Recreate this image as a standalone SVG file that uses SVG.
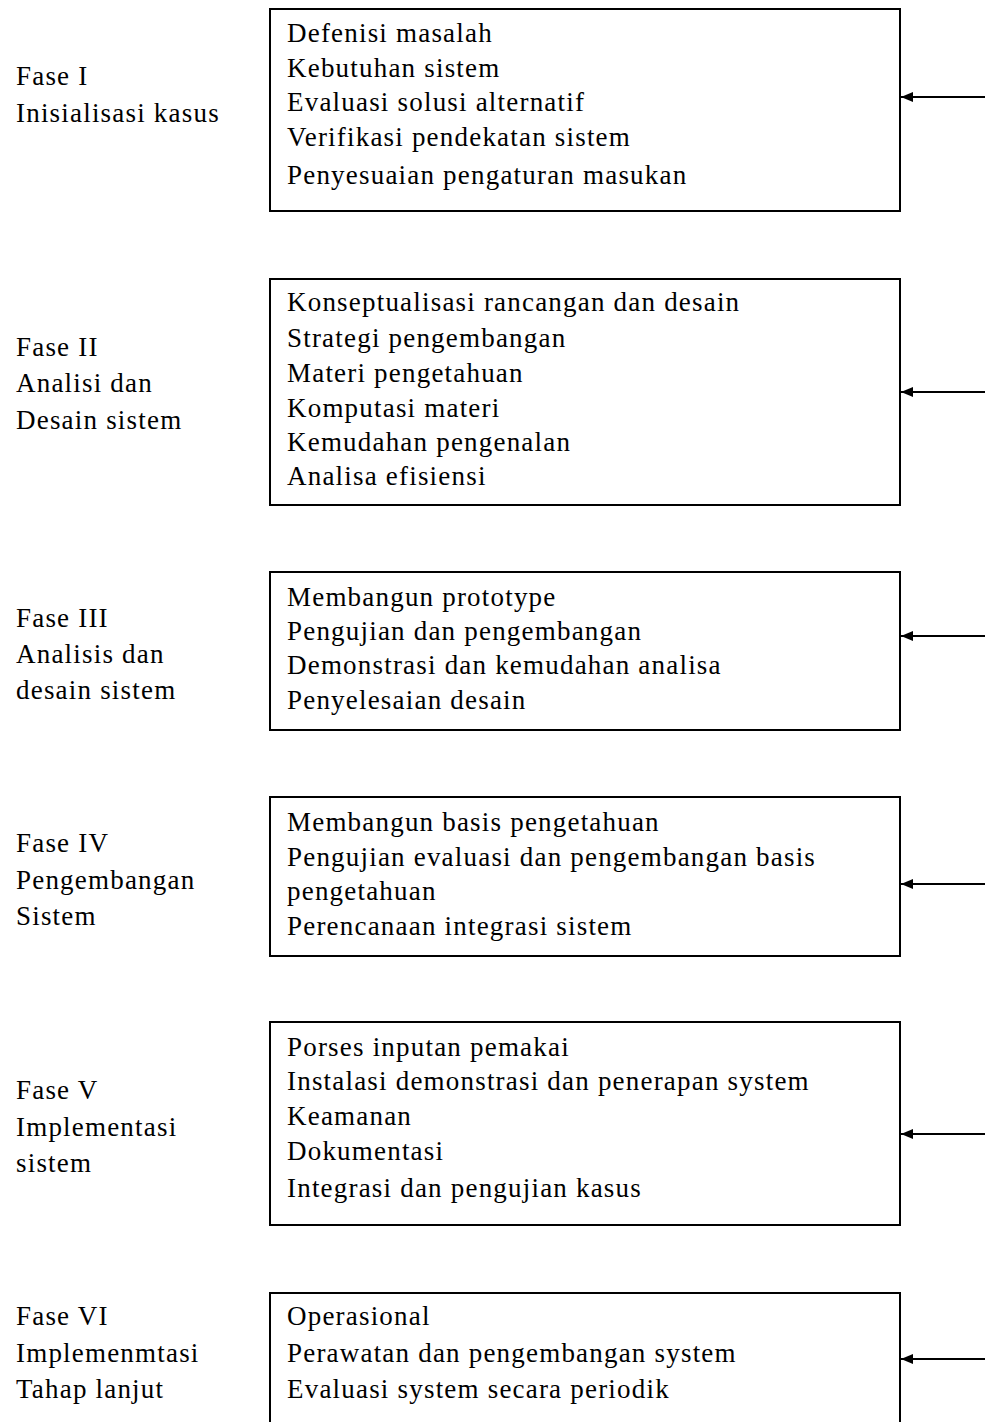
<svg xmlns="http://www.w3.org/2000/svg" width="985" height="1422" viewBox="0 0 985 1422">
<style>
text{font-family:'Liberation Serif','DejaVu Serif',serif;font-size:27px;letter-spacing:1.2px;fill:#000}
.box{fill:#fff;stroke:#000;stroke-width:2}
.conn{stroke:#000;stroke-width:2;fill:none}
</style>
<defs>
<marker id="ah" markerWidth="12" markerHeight="10" refX="12" refY="5" orient="auto" markerUnits="userSpaceOnUse">
<path d="M0,0 L12,5 L0,10 Z" fill="#000"/>
</marker>
</defs>
<rect width="985" height="1422" fill="#fff"/>
<g id="fase1" font-family="Liberation Serif, serif">
<text x="16" y="85">Fase I</text>
<text x="16" y="122">Inisialisasi kasus</text>
<rect class="box" x="270" y="9" width="630" height="202"/>
<text x="287" y="42">Defenisi masalah</text>
<text x="287" y="77">Kebutuhan sistem</text>
<text x="287" y="111">Evaluasi solusi alternatif</text>
<text x="287" y="146">Verifikasi pendekatan sistem</text>
<text x="287" y="184">Penyesuaian pengaturan masukan</text>
</g>
<g id="fase2">
<text x="16" y="356">Fase II</text>
<text x="16" y="392">Analisi dan</text>
<text x="16" y="429">Desain sistem</text>
<rect class="box" x="270" y="279" width="630" height="226"/>
<text x="287" y="311">Konseptualisasi rancangan dan desain</text>
<text x="287" y="347">Strategi pengembangan</text>
<text x="287" y="382">Materi pengetahuan</text>
<text x="287" y="417">Komputasi materi</text>
<text x="287" y="451">Kemudahan pengenalan</text>
<text x="287" y="485">Analisa efisiensi</text>
</g>
<g id="fase3">
<text x="16" y="627">Fase III</text>
<text x="16" y="663">Analisis dan</text>
<text x="16" y="699">desain sistem</text>
<rect class="box" x="270" y="572" width="630" height="158"/>
<text x="287" y="606">Membangun prototype</text>
<text x="287" y="640">Pengujian dan pengembangan</text>
<text x="287" y="674">Demonstrasi dan kemudahan analisa</text>
<text x="287" y="709">Penyelesaian desain</text>
</g>
<g id="fase4">
<text x="16" y="852">Fase IV</text>
<text x="16" y="889">Pengembangan</text>
<text x="16" y="925">Sistem</text>
<rect class="box" x="270" y="797" width="630" height="159"/>
<text x="287" y="831">Membangun basis pengetahuan</text>
<text x="287" y="866">Pengujian evaluasi dan pengembangan basis</text>
<text x="287" y="900">pengetahuan</text>
<text x="287" y="935">Perencanaan integrasi sistem</text>
</g>
<g id="fase5">
<text x="16" y="1099">Fase V</text>
<text x="16" y="1136">Implementasi</text>
<text x="16" y="1172">sistem</text>
<rect class="box" x="270" y="1022" width="630" height="203"/>
<text x="287" y="1056">Porses inputan pemakai</text>
<text x="287" y="1090">Instalasi demonstrasi dan penerapan system</text>
<text x="287" y="1125">Keamanan</text>
<text x="287" y="1160">Dokumentasi</text>
<text x="287" y="1197">Integrasi dan pengujian kasus</text>
</g>
<g id="fase6">
<text x="16" y="1325">Fase VI</text>
<text x="16" y="1362">Implemenmtasi</text>
<text x="16" y="1398">Tahap lanjut</text>
<rect class="box" x="270" y="1293" width="630" height="140"/>
<text x="287" y="1325">Operasional</text>
<text x="287" y="1362">Perawatan dan pengembangan system</text>
<text x="287" y="1398">Evaluasi system secara periodik</text>
</g>
<g id="connectors">
<line class="conn" x1="985" y1="97" x2="901" y2="97" marker-end="url(#ah)"/>
<line class="conn" x1="985" y1="392" x2="901" y2="392" marker-end="url(#ah)"/>
<line class="conn" x1="985" y1="636" x2="901" y2="636" marker-end="url(#ah)"/>
<line class="conn" x1="985" y1="884" x2="901" y2="884" marker-end="url(#ah)"/>
<line class="conn" x1="985" y1="1134" x2="901" y2="1134" marker-end="url(#ah)"/>
<line class="conn" x1="985" y1="1359" x2="901" y2="1359" marker-end="url(#ah)"/>
</g>
</svg>
